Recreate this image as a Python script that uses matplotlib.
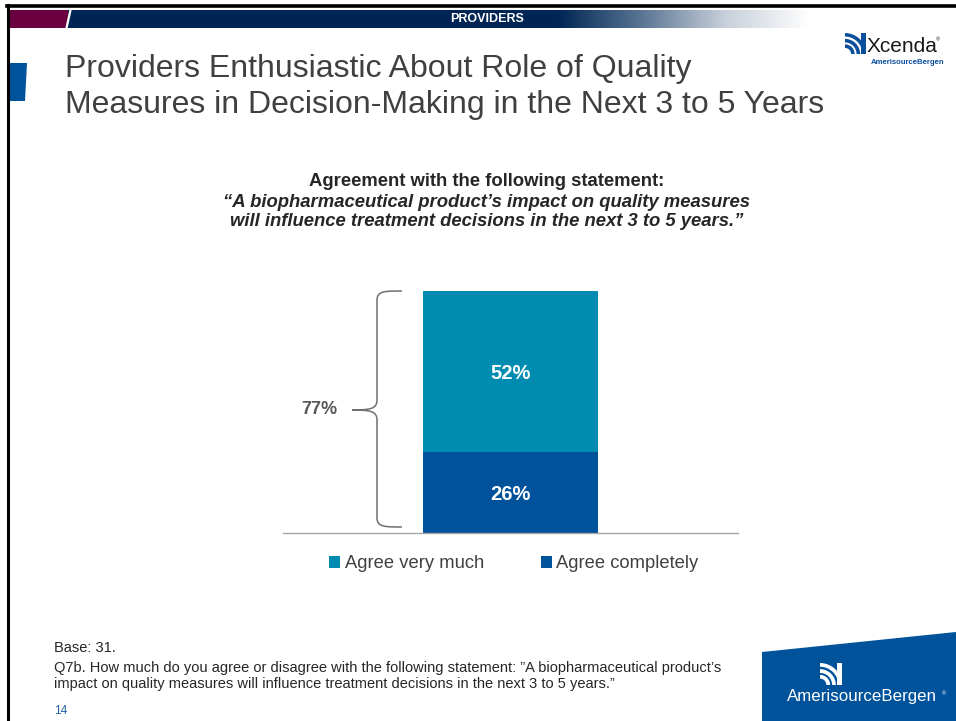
import numpy as np
import matplotlib
matplotlib.use('Agg')
import matplotlib.pyplot as plt
from matplotlib.path import Path
from matplotlib.patches import PathPatch, Polygon, Rectangle, Wedge
from matplotlib.colors import LinearSegmentedColormap

plt.rcParams['font.family'] = ['Liberation Sans', 'DejaVu Sans']

# Survey result (percent of providers)
segments = ['Agree completely', 'Agree very much']
values = [26, 52]
total_label = '77%'
legend_order = ['Agree very much', 'Agree completely']

teal = '#008CB1'
dark_blue = '#00529B'
navy = '#002554'
maroon = '#6B0041'
text_gray = '#404040'

fig = plt.figure(figsize=(9.56, 7.21), dpi=100)

# slide background layer in pixel coordinates
bg = fig.add_axes([0, 0, 1, 1])
bg.set_xlim(0, 956)
bg.set_ylim(721, 0)
bg.axis('off')

# page border
bg.plot([8, 8], [5, 721], color='black', lw=2.2)
bg.plot([7, 956], [6, 6], color='black', lw=2.6)

# header band
bg.add_patch(Rectangle((10, 10), 60, 18, color=maroon, lw=0))
bg.add_patch(Rectangle((68, 10), 490, 18, color=navy, lw=0))
fade = LinearSegmentedColormap.from_list('fade', [navy, '#5a7593', '#c8d0da', '#ffffff'])
bg.imshow(np.linspace(0, 1, 256).reshape(1, -1), cmap=fade, aspect='auto',
          extent=(557, 810, 28, 10), zorder=1)
bg.plot([70.5, 66.5], [10, 28], color='white', lw=1.6, zorder=2)
bg.text(487, 18.5, 'PROVIDERS', color='white', fontsize=9, fontweight='bold',
        ha='center', va='center', zorder=3)

# left accent block
bg.add_patch(Polygon([(9, 63), (27, 63), (25, 101), (9, 101)], color=dark_blue, lw=0))

# slide title
bg.text(65, 87, 'Providers Enthusiastic About Role of Quality\nMeasures in Decision-Making in the Next 3 to 5 Years',
        fontsize=23, color=text_gray, ha='left', va='center', linespacing=1.24)

# chart heading
bg.text(487, 181, 'Agreement with the following statement:', fontsize=13.3,
        fontweight='bold', color='#262626', ha='center', va='center')
bg.text(487, 212, '\u201cA biopharmaceutical product\u2019s impact on quality measures\n'
        'will influence treatment decisions in the next 3 to 5 years.\u201d',
        fontsize=13.3, fontweight='bold', fontstyle='italic', color='#262626',
        ha='center', va='center', linespacing=1.19)


def mini_logo(ax, x, y, s, color):
    # stacked arcs of the corporate mark
    for r in [1.0, 0.72, 0.46]:
        ax.add_patch(Wedge((x, y + s), r * s, 270, 360, width=0.17 * s, color=color, lw=0))
    ax.add_patch(Rectangle((x + 0.78 * s, y), 0.2 * s, s, color=color, lw=0))


# Xcenda logo
mini_logo(bg, 845, 33, 21, '#0B4F9C')
bg.text(867, 46, 'Xcenda', fontsize=15, color='#1a1a1a', ha='left', va='center')
bg.text(936, 40, '\u00ae', fontsize=4, color='#1a1a1a', ha='left', va='center')
bg.text(871, 62, 'AmerisourceBergen', fontsize=5.6, color='#0B4F9C',
        fontweight='bold', ha='left', va='center')

# bottom right logo block
bg.add_patch(Polygon([(762, 652), (956, 632), (956, 721), (762, 721)], color=dark_blue, lw=0))
mini_logo(bg, 820, 663, 22, 'white')
bg.text(787, 697, 'AmerisourceBergen', fontsize=12.2, color='white', ha='left', va='center')
bg.text(942, 694, '\u00ae', fontsize=4, color='white', ha='left', va='center')

# footnotes
bg.text(54, 648, 'Base: 31.', fontsize=10.5, color='#262626', ha='left', va='center')
bg.text(54, 676, 'Q7b. How much do you agree or disagree with the following statement: \u201dA biopharmaceutical product\u2019s\n'
        'impact on quality measures will influence treatment decisions in the next 3 to 5 years.\u201d',
        fontsize=10.5, color='#262626', ha='left', va='center', linespacing=1.27)
bg.text(54, 711, '14', fontsize=8.5, color='#1F5FA8', ha='left', va='center')

# curly brace spanning the whole bar
brace = Path(
    [(402, 291), (385, 291), (377, 291), (377, 300),
     (377, 400), (377, 409), (370, 410), (352, 410),
     (370, 410), (377, 411), (377, 420),
     (377, 518), (377, 527), (385, 527), (402, 527)],
    [Path.MOVETO, Path.CURVE4, Path.CURVE4, Path.CURVE4,
     Path.LINETO, Path.CURVE4, Path.CURVE4, Path.CURVE4,
     Path.CURVE4, Path.CURVE4, Path.CURVE4,
     Path.LINETO, Path.CURVE4, Path.CURVE4, Path.CURVE4])
bg.add_patch(PathPatch(brace, fill=False, edgecolor='#707070', lw=1.1))
bg.text(319, 410, total_label, fontsize=13, fontweight='bold', color='#595959',
        ha='center', va='center')

# stacked bar chart
ax = fig.add_axes([283 / 956, (721 - 533) / 721, 455 / 956, 248 / 721])
ax.set_xlim(-0.5, 0.5)
ax.set_ylim(0, 80)
bottom = 0
colors = {'Agree completely': dark_blue, 'Agree very much': teal}
bars = {}
for name, v in zip(segments, values):
    bars[name] = ax.bar(0, v, bottom=bottom, width=0.385, color=colors[name], label=name)
    ax.text(0, bottom + v / 2 - 0.6, f'{v}%', color='white', fontsize=14.5,
            fontweight='bold', ha='center', va='center')
    bottom += v
for side in ['top', 'right', 'left']:
    ax.spines[side].set_visible(False)
ax.spines['bottom'].set_color('#a6a6a6')
ax.spines['bottom'].set_linewidth(1.0)
ax.set_xticks([])
ax.set_yticks([])
ax.patch.set_alpha(0)

handles = [bars[n] for n in legend_order]
fig.legend(handles, legend_order, loc='center', bbox_to_anchor=(514 / 956, 1 - 564 / 721),
           ncol=2, frameon=False, fontsize=13.2, handlelength=0.6, handleheight=0.6,
           handletextpad=0.25, columnspacing=3.1, labelcolor=text_gray)

fig.savefig('out.png', dpi=100)
